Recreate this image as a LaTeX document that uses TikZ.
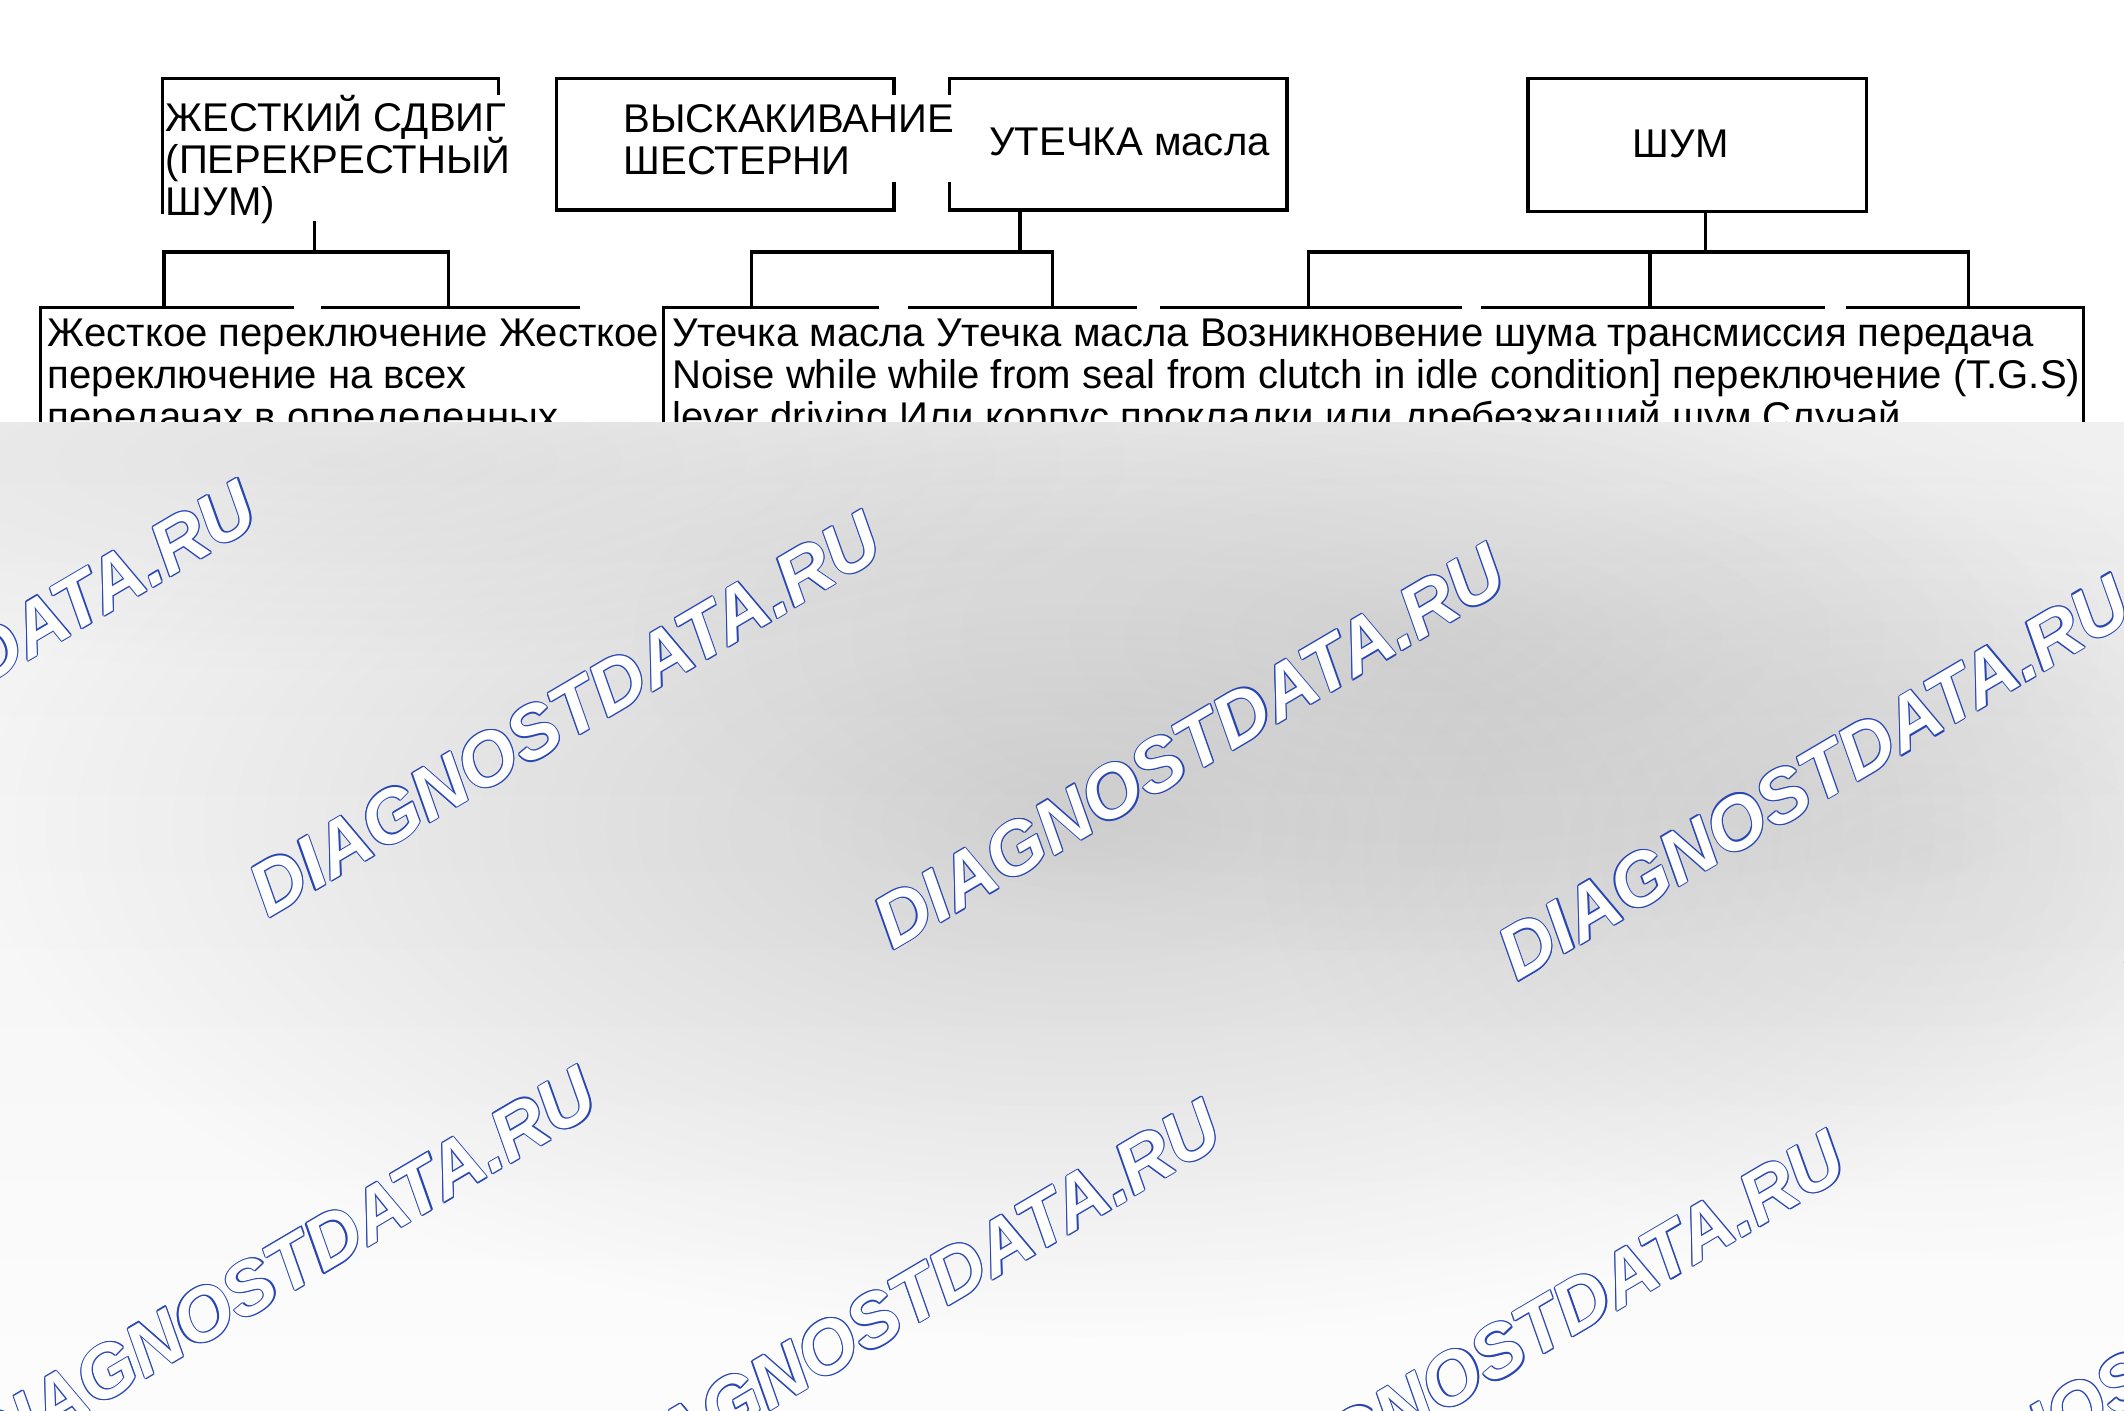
\documentclass[tikz,border=0pt]{standalone}
\usepackage{fontspec}
\setmainfont{Liberation Sans}
\usetikzlibrary{fadings}
\tikzfading[name=blob, inner color=transparent!0, outer color=transparent!100]
\definecolor{wmblue}{RGB}{40,70,180}
\begin{document}
\begin{tikzpicture}[x=0.5pt,y=-0.5pt,
  ln/.style={line width=1.2pt},
  lbl/.style={inner sep=0pt, anchor=base west, font=\fontsize{14.8pt}{15.5pt}\selectfont},
  wm/.style={inner sep=0pt, anchor=base west, rotate=30.5, font=\fontsize{27.5pt}{30pt}\selectfont\bfseries\itshape}]
\useasboundingbox (0,0) rectangle (1568,1041);
\fill[white] (0,0) rectangle (1568,1041);

% ---- top boxes text
\node[lbl] (tA1) at (122,97)  {ЖЕСТКИЙ СДВИГ};
\node[lbl] (tA2) at (122,128) {(ПЕРЕКРЕСТНЫЙ};
\node[lbl] (tA3) at (122,159) {ШУМ)};
\node[lbl] (tB1) at (460,98)  {ВЫСКАКИВАНИЕ};
\node[lbl] (tB2) at (460,129) {ШЕСТЕРНИ};
\node[lbl] (tC)  at (730,115) {УТЕЧКА масла};
\node[lbl] (tD)  at (1205,116) {ШУМ};

% ---- top box outlines
\draw[ln] (120,158) -- (120,58) -- (368,58) -- (368,70);
\draw[ln] (660,70) -- (660,58) -- (411,58) -- (411,155) -- (660,155) -- (660,134);
\draw[ln] (701,70) -- (701,58) -- (950,58) -- (950,155) -- (701,155) -- (701,134);
\draw[ln] (1128,58) rectangle (1378,156);

% ---- connector points
\coordinate (Abot) at (232,163);
\coordinate (Ajoin) at (232,186);
\coordinate (Aleaf1) at (121,227);
\coordinate (Aleaf2) at (331,227);
\coordinate (Cbot) at (753,155);
\coordinate (Cjoin) at (753,186);
\coordinate (Cleaf1) at (555,227);
\coordinate (Cleaf2) at (777,227);
\coordinate (Dbot) at (1259,156);
\coordinate (Djoin) at (1259,186);
\coordinate (Dleaf1) at (966,227);
\coordinate (Dleaf2) at (1218,227);
\coordinate (Dleaf3) at (1453,227);

\draw[ln] (Abot) -- (Ajoin);
\draw[ln] (Aleaf1) |- (Ajoin) -| (Aleaf2);
\draw[ln] (Cbot) -- (Cjoin);
\draw[ln] (Cleaf1) |- (Cjoin) -| (Cleaf2);
\draw[ln] (Dbot) -- (Djoin);
\draw[ln] (Dleaf1) |- (Djoin) -| (Dleaf3);
\draw[ln] (Djoin -| Dleaf2) -- (Dleaf2);

% ---- bottom boxes outlines
\draw[ln] (30,312) -- (30,227) -- (217,227);
\draw[ln] (237,227) -- (428,227);
\draw[ln] (490,312) -- (490,227) -- (649,227);
\draw[ln] (670,227) -- (839,227);
\draw[ln] (856,227) -- (1079,227);
\draw[ln] (1093,227) -- (1347,227);
\draw[ln] (1363,227) -- (1538,227) -- (1538,312);

% ---- bottom boxes text
\node[lbl] (tL1) at (35,256) {Жесткое переключение Жесткое};
\node[lbl] (tL2) at (35,287) {переключение на всех};
\node[lbl] (tL3) at (35,318) {передачах в определенных};
\node[lbl] (tR1) at (496,256) {Утечка масла Утечка масла Возникновение шума трансмиссия передача};
\node[lbl] (tR2) at (496,287) {Noise while while from seal from clutch in idle condition] переключение (T.G.S)};
\node[lbl] (tR3) at (496,318) {lever driving Или корпус прокладки или дребезжащий шум Случай};

% ---- grey band with watermark
\begin{scope}
\clip (0,312) rectangle (1568,1041);
\shade[top color=black!6, bottom color=black!1] (0,312) rectangle (1568,1041);
\fill[black, opacity=0.14, path fading=blob] (800,610) ellipse (820 and 380);
\fill[black, opacity=0.08, path fading=blob] (1420,630) ellipse (500 and 300);
\fill[black, opacity=0.05, path fading=blob] (250,340) ellipse (600 and 160);
\fill[black, opacity=0.06, path fading=blob] (1050,470) ellipse (600 and 240);
\foreach \px/\py [count=\i] in {-263/655, 198/678, 659/702, 1120/725, 1581/748, -12/1088, 449/1112, 910/1135, 1371/1158} {
  \foreach \dx/\dy [count=\k] in {0.45/0, -0.45/0, 0/0.45, 0/-0.45, 0.32/0.32, 0.32/-0.32, -0.32/0.32, -0.32/-0.32} {
    \node[wm, text=wmblue, xshift=\dx pt, yshift=\dy pt] (wmc\i-\k) at (\px,\py) {DIAGNOSTDATA.RU};
  }
  \node[wm, text=white] (wm\i) at (\px,\py) {DIAGNOSTDATA.RU};
}
\end{scope}
\end{tikzpicture}
\end{document}
